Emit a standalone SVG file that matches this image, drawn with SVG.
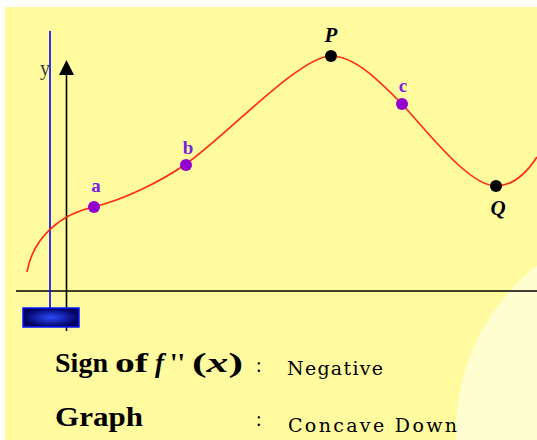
<svg xmlns="http://www.w3.org/2000/svg" width="537" height="440" viewBox="0 0 537 440">
<defs>
<radialGradient id="btn" cx="0.5" cy="0.5" r="0.5">
<stop offset="0" stop-color="#2a4bff"/>
<stop offset="1" stop-color="#000060"/>
</radialGradient>
<style>
.axis{stroke:#000;stroke-width:1.6;fill:none}
.curve{stroke:#ff2a10;stroke-width:1.6;fill:none}
.pt{fill:#9400d0}
.key{fill:#000}
.plab{font-family:"Liberation Serif",serif;font-weight:bold;font-size:19px;fill:#7a22e0;text-anchor:middle}
.klab{font-family:"Liberation Serif",serif;font-weight:bold;font-style:italic;font-size:21px;fill:#000;text-anchor:middle}
.head{font-family:"Liberation Serif",serif;font-weight:bold;font-size:27px;fill:#000}
.val{font-family:"DejaVu Serif",serif;font-size:19px;fill:#000}
.colon{font-family:"Liberation Serif",serif;font-size:20px;fill:#000}
</style>
</defs>
<rect x="0" y="0" width="537" height="440" fill="#ffffff"/>
<rect x="5" y="7" width="532" height="433" fill="#fffb9e"/>
<circle cx="668" cy="432" r="212" fill="#fffed0"/>

<g id="y-label"><text x="40" y="75" font-family="Liberation Serif,serif" font-size="20" fill="#3a3a3a">y</text></g>

<g id="connectors">
<line class="axis" x1="16" y1="291" x2="537" y2="291"/>
<line class="axis" x1="66.5" y1="74" x2="66.5" y2="331"/>
<polygon points="66.5,60 59,75 74,75" fill="#000"/>
<line x1="50" y1="31" x2="50" y2="309" stroke="#0000ff" stroke-width="1.6"/>
<path class="curve" d="M27,272 C33,238 60,214 94,207 C125,199 160,182 186,164 C226,136 300,56 331,56 C356,56 382,84 402,104 C432,137 470,186 496,186 C514,186 528,171 537,157"/>
</g>

<g id="slider"><rect x="23" y="308" width="56" height="19" fill="url(#btn)" stroke="#0018ff" stroke-width="1.5"/></g>

<g id="point-a"><circle class="pt" cx="94" cy="207" r="6"/><text class="plab" x="96" y="192">a</text></g>
<g id="point-b"><circle class="pt" cx="186" cy="165" r="6"/><text class="plab" x="188" y="154">b</text></g>
<g id="point-c"><circle class="pt" cx="402" cy="104" r="6"/><text class="plab" x="403" y="92">c</text></g>
<g id="point-P"><circle class="key" cx="331" cy="56" r="6"/><text class="klab" x="331" y="42">P</text></g>
<g id="point-Q"><circle class="key" cx="496" cy="186" r="6"/><text class="klab" x="498" y="215">Q</text></g>

<g id="sign-row">
<text class="head" x="55" y="372" textLength="53" lengthAdjust="spacingAndGlyphs">Sign</text>
<text class="head" x="115" y="372" textLength="33" lengthAdjust="spacingAndGlyphs">of</text>
<text class="head" x="155" y="372" font-style="italic">f</text>
<text class="head" x="170" y="372">''</text>
<text class="head" x="192" y="372" font-size="29" textLength="51" lengthAdjust="spacingAndGlyphs">(<tspan font-style="italic">x</tspan>)</text>
<text class="colon" x="256" y="372">:</text>
<text class="val" x="287" y="375" textLength="96" lengthAdjust="spacing">Negative</text>
</g>
<g id="graph-row">
<text class="head" x="55" y="426" textLength="88" lengthAdjust="spacingAndGlyphs">Graph</text>
<text class="colon" x="256" y="426">:</text>
<text class="val" x="288" y="432" textLength="169" lengthAdjust="spacing">Concave Down</text>
</g>
</svg>
